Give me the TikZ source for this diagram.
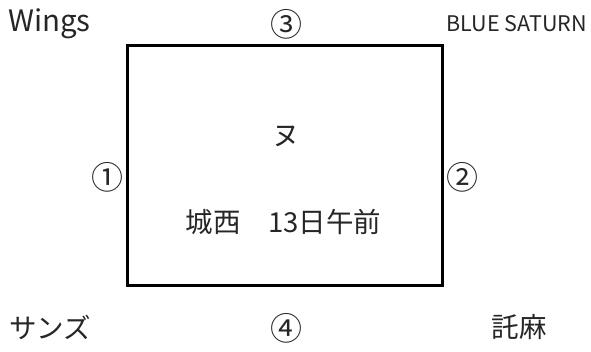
\documentclass[tikz,border=0pt]{standalone}
\usepackage{fontspec}
\setmainfont{Noto Sans CJK JP}
\usetikzlibrary{positioning}

\begin{document}
\begin{tikzpicture}[x=1pt, y=-1pt, every node/.style={inner sep=0pt}]
  % Define styles
  \tikzstyle{board} = [rectangle, draw=black, line width=3pt, minimum width=315pt, minimum height=240pt]
  \tikzstyle{label} = [font=\fontsize{27.5}{32}\selectfont, text=black!85]
  \tikzstyle{side} = [font=\fontsize{32}{36}\selectfont, text=black!85]
  \tikzstyle{latin} = [font=\fontsize{29.5}{34}\selectfont, text=black!85]
  \tikzstyle{small} = [font=\fontsize{21.5}{24}\selectfont, text=black!85]

  \useasboundingbox (0,0) rectangle (591,351);

  % Place nodes
  \node [board] (board) at (284.5,165) {};
  \node [label] (kana) at (286,136) {ヌ};
  \node [label] (place) at (283.5,222) {城西　13日午前};
  \node [side] (one) at (107,177) {①};
  \node [side] (two) at (462,177) {②};
  \node [side] (three) at (286,24) {③};
  \node [side] (four) at (286,328) {④};
  \node [latin, anchor=west] (wings) at (8,24) {Wings};
  \node [small, anchor=east] (saturn) at (587,24) {BLUE SATURN};
  \node [label, anchor=west] (suns) at (9,327) {サンズ};
  \node [label] (takuma) at (519,327) {託麻};

\end{tikzpicture}
\end{document}
